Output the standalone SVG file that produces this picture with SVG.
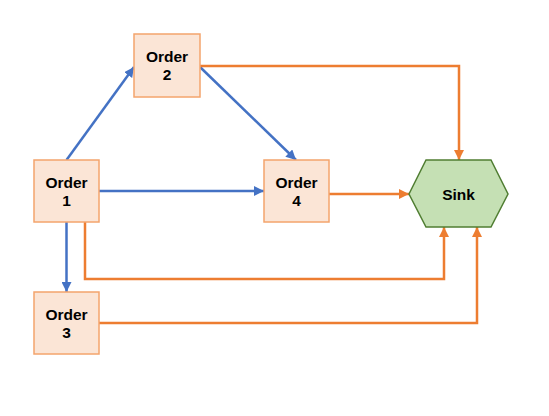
<svg xmlns="http://www.w3.org/2000/svg" width="549" height="416" viewBox="0 0 549 416">
<defs>
<style>
.box{fill:#FBE5D6;stroke:#F4A46C;stroke-width:1.5}
.sink{fill:#C5E0B4;stroke:#507E32;stroke-width:1.5}
.t{font-family:"Liberation Sans",Arial,sans-serif;font-weight:bold;font-size:15.5px;fill:#000;text-anchor:middle}
.b{fill:none;stroke:#4472C4;stroke-width:2.5}
.o{fill:none;stroke:#ED7D31;stroke-width:2.5}
</style>
<marker id="ab" viewBox="0 0 10 10" refX="10" refY="5" markerWidth="4" markerHeight="4" orient="auto" markerUnits="strokeWidth"><path d="M0,0 L10,5 L0,10 z" fill="#4472C4"/></marker>
<marker id="ao" viewBox="0 0 10 10" refX="10" refY="5" markerWidth="4" markerHeight="4" orient="auto" markerUnits="strokeWidth"><path d="M0,0 L10,5 L0,10 z" fill="#ED7D31"/></marker>
</defs>
<rect width="549" height="416" fill="#fff"/>
<g id="connectors">
<line class="b" x1="66.5" y1="160" x2="134" y2="67" marker-end="url(#ab)"/>
<line class="b" x1="99" y1="191" x2="264" y2="191" marker-end="url(#ab)"/>
<line class="b" x1="200" y1="67" x2="296" y2="160" marker-end="url(#ab)"/>
<line class="b" x1="66.5" y1="222" x2="66.5" y2="292" marker-end="url(#ab)"/>
<polyline class="o" points="200,66 459,66 459,160" marker-end="url(#ao)"/>
<line class="o" x1="329" y1="194" x2="409" y2="194" marker-end="url(#ao)"/>
<polyline class="o" points="85,222 85,279 444,279 444,227" marker-end="url(#ao)"/>
<polyline class="o" points="99,323 477,323 477,227" marker-end="url(#ao)"/>
</g>
<g id="order1"><rect class="box" x="34" y="160" width="65" height="62"/><text class="t" x="66.5" y="188">Order</text><text class="t" x="66.5" y="206">1</text></g>
<g id="order2"><rect class="box" x="134" y="34" width="66" height="63"/><text class="t" x="167" y="62">Order</text><text class="t" x="167" y="80">2</text></g>
<g id="order3"><rect class="box" x="34" y="292" width="65" height="62"/><text class="t" x="66.5" y="320">Order</text><text class="t" x="66.5" y="338">3</text></g>
<g id="order4"><rect class="box" x="264" y="160" width="65" height="62"/><text class="t" x="296.5" y="188">Order</text><text class="t" x="296.5" y="206">4</text></g>
<g id="sink"><polygon class="sink" points="409,194 426,160 491,160 508,194 491,227 426,227"/><text class="t" x="458.5" y="200">Sink</text></g>
</svg>
